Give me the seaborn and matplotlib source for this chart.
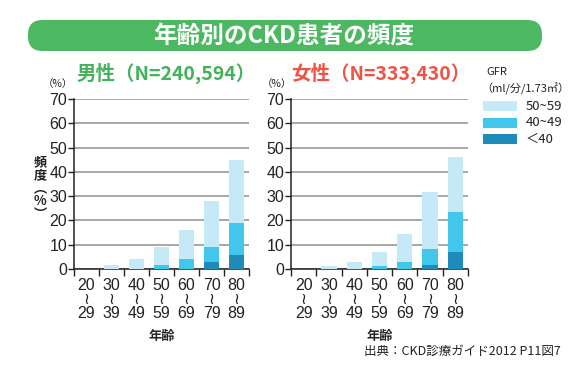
import numpy as np
import pandas as pd
import seaborn as sns
import matplotlib.pyplot as plt
from matplotlib.patches import FancyBboxPatch

sns.set_style("white")
plt.rcParams["font.family"] = ["Noto Sans CJK JP", "DejaVu Sans"]
NUM_FONT = ["Liberation Sans", "DejaVu Sans"]

ages = ["20\n≀\n29", "30\n≀\n39", "40\n≀\n49", "50\n≀\n59", "60\n≀\n69", "70\n≀\n79", "80\n≀\n89"]
gfr_labels = ["50~59", "40~49", "＜40"]
colors = ["#c6e9f8", "#42c6ec", "#1f8bbb"]

# 男性 (%)
men_lt40 = [0, 0, 0, 0, 0, 2.9, 5.9]
men_40_49 = [0, 0, 0, 1.6, 4.1, 6.1, 13.0]
men_50_59 = [0, 1.6, 4.1, 7.5, 11.8, 18.9, 25.9]

# 女性 (%)
women_lt40 = [0, 0, 0, 0, 0, 1.6, 7.0]
women_40_49 = [0, 0, 0, 1.2, 2.9, 6.6, 16.5]
women_50_59 = [0, 1.2, 2.9, 5.8, 11.5, 23.5, 22.6]

W, H = 581, 367
fig = plt.figure(figsize=(W / 100, H / 100), dpi=100)


def fx(px):
    return px / W


def fy(px):
    return 1 - px / H


# header banner
banner = FancyBboxPatch((fx(28), fy(51)), fx(514), fy(20) - fy(51),
                        boxstyle="round,pad=0,rounding_size=0.025",
                        transform=fig.transFigure, facecolor="#4cb862",
                        edgecolor="none", mutation_aspect=W / H)
fig.patches.append(banner)
fig.text(fx(284), fy(36), "年齢別のCKD患者の頻度", color="white", fontsize=17,
         fontweight="bold", ha="center", va="center")


def draw_panel(ax, lt40, mid, light):
    df = pd.DataFrame({"age": ages, "lt40": lt40, "mid": mid, "light": light})
    df["top_mid"] = df["lt40"] + df["mid"]
    df["total"] = df["top_mid"] + df["light"]
    for col, c in zip(["total", "top_mid", "lt40"], colors):
        sns.barplot(data=df, x="age", y=col, color=c, width=0.6, order=ages,
                    ax=ax, saturation=1, linewidth=0, zorder=3)
    ax.set_ylim(0, 70)
    ax.set_xlim(-0.5, 6.5)
    ax.set_yticks(range(0, 71, 10))
    ax.yaxis.grid(True, color="#8f8f8f", linewidth=1.1, zorder=0)
    ax.set_axisbelow(True)
    for s in ["top", "right"]:
        ax.spines[s].set_visible(False)
    for s in ["left", "bottom"]:
        ax.spines[s].set_color("#222222")
        ax.spines[s].set_linewidth(1.1)
    ax.set_xlabel("年齢", fontsize=9.5, fontweight="bold", labelpad=6)
    ax.set_ylabel("")
    ax.tick_params(axis="y", left=True, length=4, width=1, labelsize=11.5, pad=1,
                   colors="#222222")
    ax.tick_params(axis="x", which="major", bottom=False, labelsize=11.5, pad=3,
                   colors="#222222")
    ax.set_xticks(np.arange(-0.5, 7, 1), minor=True)
    ax.tick_params(axis="x", which="minor", bottom=True, length=5, width=1,
                   colors="#222222")
    for lab in ax.get_xticklabels() + ax.get_yticklabels():
        lab.set_family(NUM_FONT)
    for lab in ax.get_xticklabels():
        lab.set_linespacing(0.9)


ax1 = fig.add_axes([fx(74), fy(269), fx(175), fy(99) - fy(269)])
draw_panel(ax1, men_lt40, men_40_49, men_50_59)
ax2 = fig.add_axes([fx(291), fy(269), fx(177), fy(99) - fy(269)])
draw_panel(ax2, women_lt40, women_40_49, women_50_59)

# subtitles
fig.text(fx(76), fy(73), "男性（N=240,594）", color="#43b25a", fontsize=14,
         fontweight="bold", va="center", ha="left")
fig.text(fx(291), fy(73), "女性（N=333,430）", color="#ee5346", fontsize=14,
         fontweight="bold", va="center", ha="left")
fig.text(fx(58), fy(84), "（%）", fontsize=7.5, ha="center", va="center", color="#222222")
fig.text(fx(277), fy(84), "（%）", fontsize=7.5, ha="center", va="center", color="#222222")

# y label
fig.text(fx(40), fy(188), "頻\n度\n︵\n%\n︶", fontsize=9.5, fontweight="bold",
         ha="center", va="center", linespacing=0.9, color="#222222")

# legend
fig.text(fx(486), fy(72), "GFR", fontsize=8, ha="left", va="center", color="#222222")
fig.text(fx(481), fy(89), "（ml/分/1.73㎡）", fontsize=8, ha="left", va="center",
         color="#222222")
for i, (lab, c) in enumerate(zip(gfr_labels, colors)):
    yc = 106 + i * 16.5
    fig.patches.append(plt.Rectangle((fx(483), fy(yc + 5)), fx(34), fy(yc - 5) - fy(yc + 5),
                                     transform=fig.transFigure, facecolor=c,
                                     edgecolor="none"))
    fig.text(fx(526), fy(yc), lab, fontsize=9.5, ha="left",
             va="center", color="#222222")

fig.text(fx(561), fy(351), "出典：CKD診療ガイド2012 P11図7", fontsize=9,
         ha="right", va="center", color="#222222")

fig.savefig("out.png", dpi=100)
